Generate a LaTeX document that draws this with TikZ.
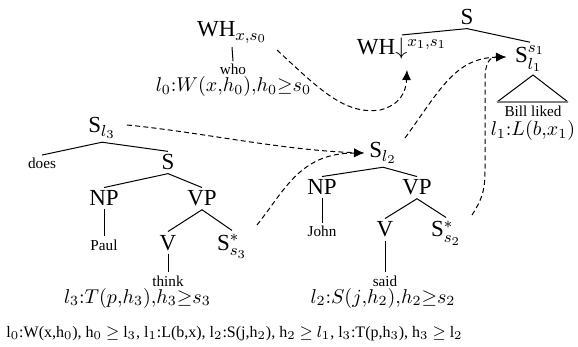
\documentclass[tikz,border=0pt]{standalone}
\usepackage[no-math]{fontspec}
\setmainfont{Liberation Serif}
\usetikzlibrary{arrows.meta,calc}
\begin{document}
\begin{tikzpicture}[x=0.5pt,y=-0.5pt,
  big/.style={font=\fontsize{11.5}{13}\selectfont, inner sep=1.5pt, anchor=base},
  sm/.style={font=\fontsize{7.6}{9}\selectfont, inner sep=1.5pt, anchor=base},
  fm/.style={font=\fontsize{10.4}{12}\selectfont, inner sep=1.5pt, anchor=base},
  bt/.style={font=\fontsize{8}{10}\selectfont, inner sep=0pt, anchor=base},
  edge/.style={line width=0.5pt},
  dlink/.style={line width=0.5pt, dash pattern=on 2.5pt off 1.6pt, -{Latex[length=5pt,width=4.5pt]}}]
\useasboundingbox (0,0) rectangle (578,347);

% top right tree
\node[big] (s0) at (467,25) {S};
\node[big] (whd) at (402,55) {WH$\downarrow^{x_1,s_1}$};
\node[big] (sl1) at (530,63) {S$^{s_1}_{l_1}$};
\node[sm] (bill) at (533,117) {Bill liked};
\node[fm] (f1) at (533,136) {$l_1{:}L(b{,}x_1)$};
\coordinate (tapex) at (533,75);
\coordinate (tbl) at (497,102);
\coordinate (tbr) at (568,102);
\draw[edge] (whd.north) -- (s0.south) -- (sl1.north);
\draw[edge] (tbl) -- (tapex) -- (tbr);
\draw[gray, line width=1pt] (tbl) -- (tbr);

% WH x s0
\node[big] (whx) at (232,37) {WH$_{x,s_0}$};
\node[sm] (who) at (233,75) {who};
\node[fm] (f0) at (233.5,92) {$l_0{:}W(x{,}h_0){,}h_0{\geq}s_0$};
\draw[edge] (whx.south) -- (who.north);

% left tree
\node[big] (sl3) at (102,133) {S$_{l_3}$};
\node[sm] (does) at (42,169) {does};
\node[big] (s3) at (168,170) {S};
\node[big] (np3) at (104,206) {NP};
\node[big] (vp3) at (202,206) {VP};
\node[sm] (paul) at (104,250) {Paul};
\node[big] (v3) at (168,250) {V};
\node[big] (ss3) at (232,250) {S$^*_{s_3}$};
\node[sm] (think) at (168,286) {think};
\node[fm] (f3) at (137.5,303) {$l_3{:}T(p{,}h_3){,}h_3{\geq}s_3$};
\draw[edge] (does.north) -- (sl3.south) -- (s3.north);
\draw[edge] (np3.north) -- (s3.south) -- (vp3.north);
\draw[edge] (v3.north) -- (vp3.south) -- (ss3.north);
\draw[edge] (np3.south) -- (paul.north);
\draw[edge] (v3.south) -- (think.north);

% middle tree
\node[big] (sl2) at (383,158) {S$_{l_2}$};
\node[big] (np2) at (322,195) {NP};
\node[big] (vp2) at (417,195) {VP};
\node[sm] (john) at (322,237) {John};
\node[big] (v2) at (385,237) {V};
\node[big] (ss2) at (446,237) {S$^*_{s_2}$};
\node[sm] (said) at (385,286) {said};
\node[fm] (f2) at (383,303) {$l_2{:}S(j{,}h_2){,}h_2{\geq}s_2$};
\draw[edge] (np2.north) -- (sl2.south) -- (vp2.north);
\draw[edge] (v2.north) -- (vp2.south) -- (ss2.north);
\draw[edge] (np2.south) -- (john.north);
\draw[edge] (v2.south) -- (said.north);

% bottom line
\node[bt] (bot) at (234.5,337) {l$_0$:W(x,h$_0$), h$_0$ $\geq$ l$_3$, l$_1$:L(b,x), l$_2$:S(j,h$_2$), h$_2$ $\geq$ $l_1$, l$_3$:T(p,h$_3$), h$_3$ $\geq$ l$_2$};

% dashed links
\draw[dlink] ([shift={(45,13)}]whx.base) .. controls (320,90) and (345,115) .. (380,110) .. controls (400,105) and (406,92) .. ([shift={(5,15)}]whd.base);
\draw[dlink] ([shift={(25,-8)}]sl3.base) .. controls (200,132) and (280,150) .. ([shift={(-19,-5)}]sl2.base);
\draw[dlink] ([shift={(25,-25)}]ss3.base) .. controls (285,190) and (300,153) .. ([shift={(-19,-5)}]sl2.base);
\draw[dlink] ([shift={(22,-20)}]sl2.base) .. controls (440,90) and (455,58) .. ([shift={(-24,-6)}]sl1.base);
\draw[dlink] ([shift={(26,-22)}]ss2.base) .. controls (485,195) and (485,185) .. (485,165) -- (485,80) .. controls (485,62) and (490,57) .. ([shift={(-24,-6)}]sl1.base);
\end{tikzpicture}
\end{document}
